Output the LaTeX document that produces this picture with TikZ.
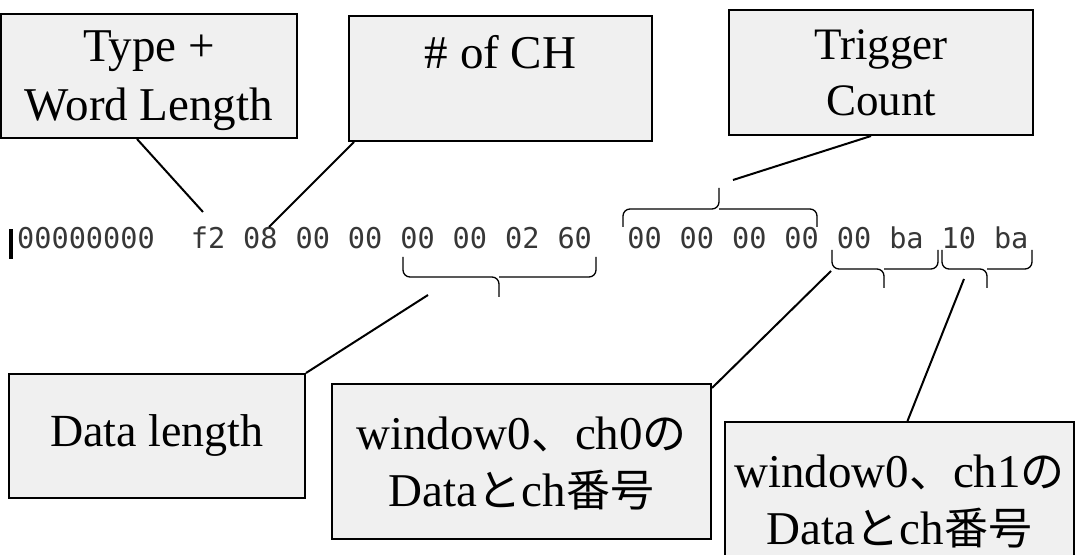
\documentclass[tikz,border=0pt]{standalone}
\usepackage{fontspec}
\setmainfont{Liberation Serif}
\newfontfamily\jpfont{Noto Sans CJK JP}
\newfontfamily\monofont{DejaVu Sans Mono}
\usetikzlibrary{calc}
\definecolor{boxgray}{RGB}{240,240,240}
\definecolor{hexgray}{RGB}{55,55,55}
\newcommand{\jp}[1]{{\jpfont\fontsize{22pt}{28.5pt}\selectfont #1}}

\begin{document}
\begin{tikzpicture}[x=0.5pt, y=-0.5pt,
	callout/.style={draw, line width=1pt, fill=boxgray, align=center, inner sep=0pt,
		anchor=north west, font=\fontsize{23.5pt}{29.5pt}\selectfont},
	hexbyte/.style={anchor=base, inner sep=0pt, text=hexgray,
		font=\monofont\fontsize{14.3pt}{16pt}\selectfont},
	lead/.style={line width=1pt},
	bytebrace/.style={line width=0.65pt, rounded corners=3.5pt},
]
		\useasboundingbox (0,0) rectangle (1082,555);
		%
		\fill (9,229) rectangle (13,259);
		\node[hexbyte] (addr) at (86,249) {00000000};
		\foreach \v [count=\j] in {f2,08,00,00,00,00,02,60}
			\node[hexbyte] (b\j) at ({16+(8+3*\j)*17.46},249) {\v};
		\foreach \v [count=\j from 9] in {00,00,00,00,00,ba,10,ba}
			\node[hexbyte] (b\j) at ({16+(9+3*\j)*17.46},249) {\v};
		%
		\node[callout, minimum width=148pt, minimum height=62pt, text depth=0pt] (typelen) at (0,13) {Type +\\Word Length};
		\node[callout, minimum width=151.5pt, minimum height=62.5pt, text height=17pt, text depth=26.5pt] (numch) at (348,15) {\# of CH};
		\node[callout, minimum width=152pt, minimum height=62.5pt, text depth=0pt, font=\fontsize{22.5pt}{28pt}\selectfont] (trig) at (728,9) {Trigger\\Count};
		\node[callout, minimum width=148pt, minimum height=62pt, font=\fontsize{23pt}{28pt}\selectfont] (datalen) at (8,373) {Data length};
		\node[callout, minimum width=189.5pt, minimum height=77.5pt, text depth=0pt, font=\fontsize{23.5pt}{28.5pt}\selectfont] (win0) at (331,383)
			{window0\jp{、}ch0\jp{の}\\Data\jp{と}ch\jp{番号}};
		\node[callout, minimum width=174.5pt, minimum height=77.5pt, text depth=0pt, font=\fontsize{23.5pt}{28.5pt}\selectfont] (win1) at (724,421)
			{window0\jp{、}ch1\jp{の}\\Data\jp{と}ch\jp{番号}};
		%
		\draw[bytebrace] (623,227) |- (719,209) -- (719,188);
		\draw[bytebrace] (817,227) |- (719,209);
		\draw[bytebrace] (403,257) |- (499,277) -- (499,297);
		\draw[bytebrace] (596,257) |- (499,277);
		\draw[bytebrace] (832,250) |- (884,269) -- (884,288);
		\draw[bytebrace] (938,250) |- (884,269);
		\draw[bytebrace] (942,250) |- (987,269) -- (987,288);
		\draw[bytebrace] (1032,250) |- (987,269);
		%
		\coordinate (typeEnd) at (203,212);
		\coordinate (chEnd) at (269,227);
		\coordinate (trigEnd) at (733,180);
		\coordinate (lenEnd) at (428,295);
		\coordinate (ch0End) at (831,271);
		\coordinate (ch1End) at (964,279);
		\draw[lead] ($(typelen.south)+(-12,0)$) -- (typeEnd);
		\draw[lead] ($(numch.south west)+(6,0)$) -- (chEnd);
		\draw[lead] ($(trig.south)+(-10,0)$) -- (trigEnd);
		\draw[lead] (datalen.north east) -- (lenEnd);
		\draw[lead] ($(win0.north east)+(0,5)$) -- (ch0End);
		\draw[lead] ($(win1.north)+(8,0)$) -- (ch1End);
\end{tikzpicture}
\end{document}
